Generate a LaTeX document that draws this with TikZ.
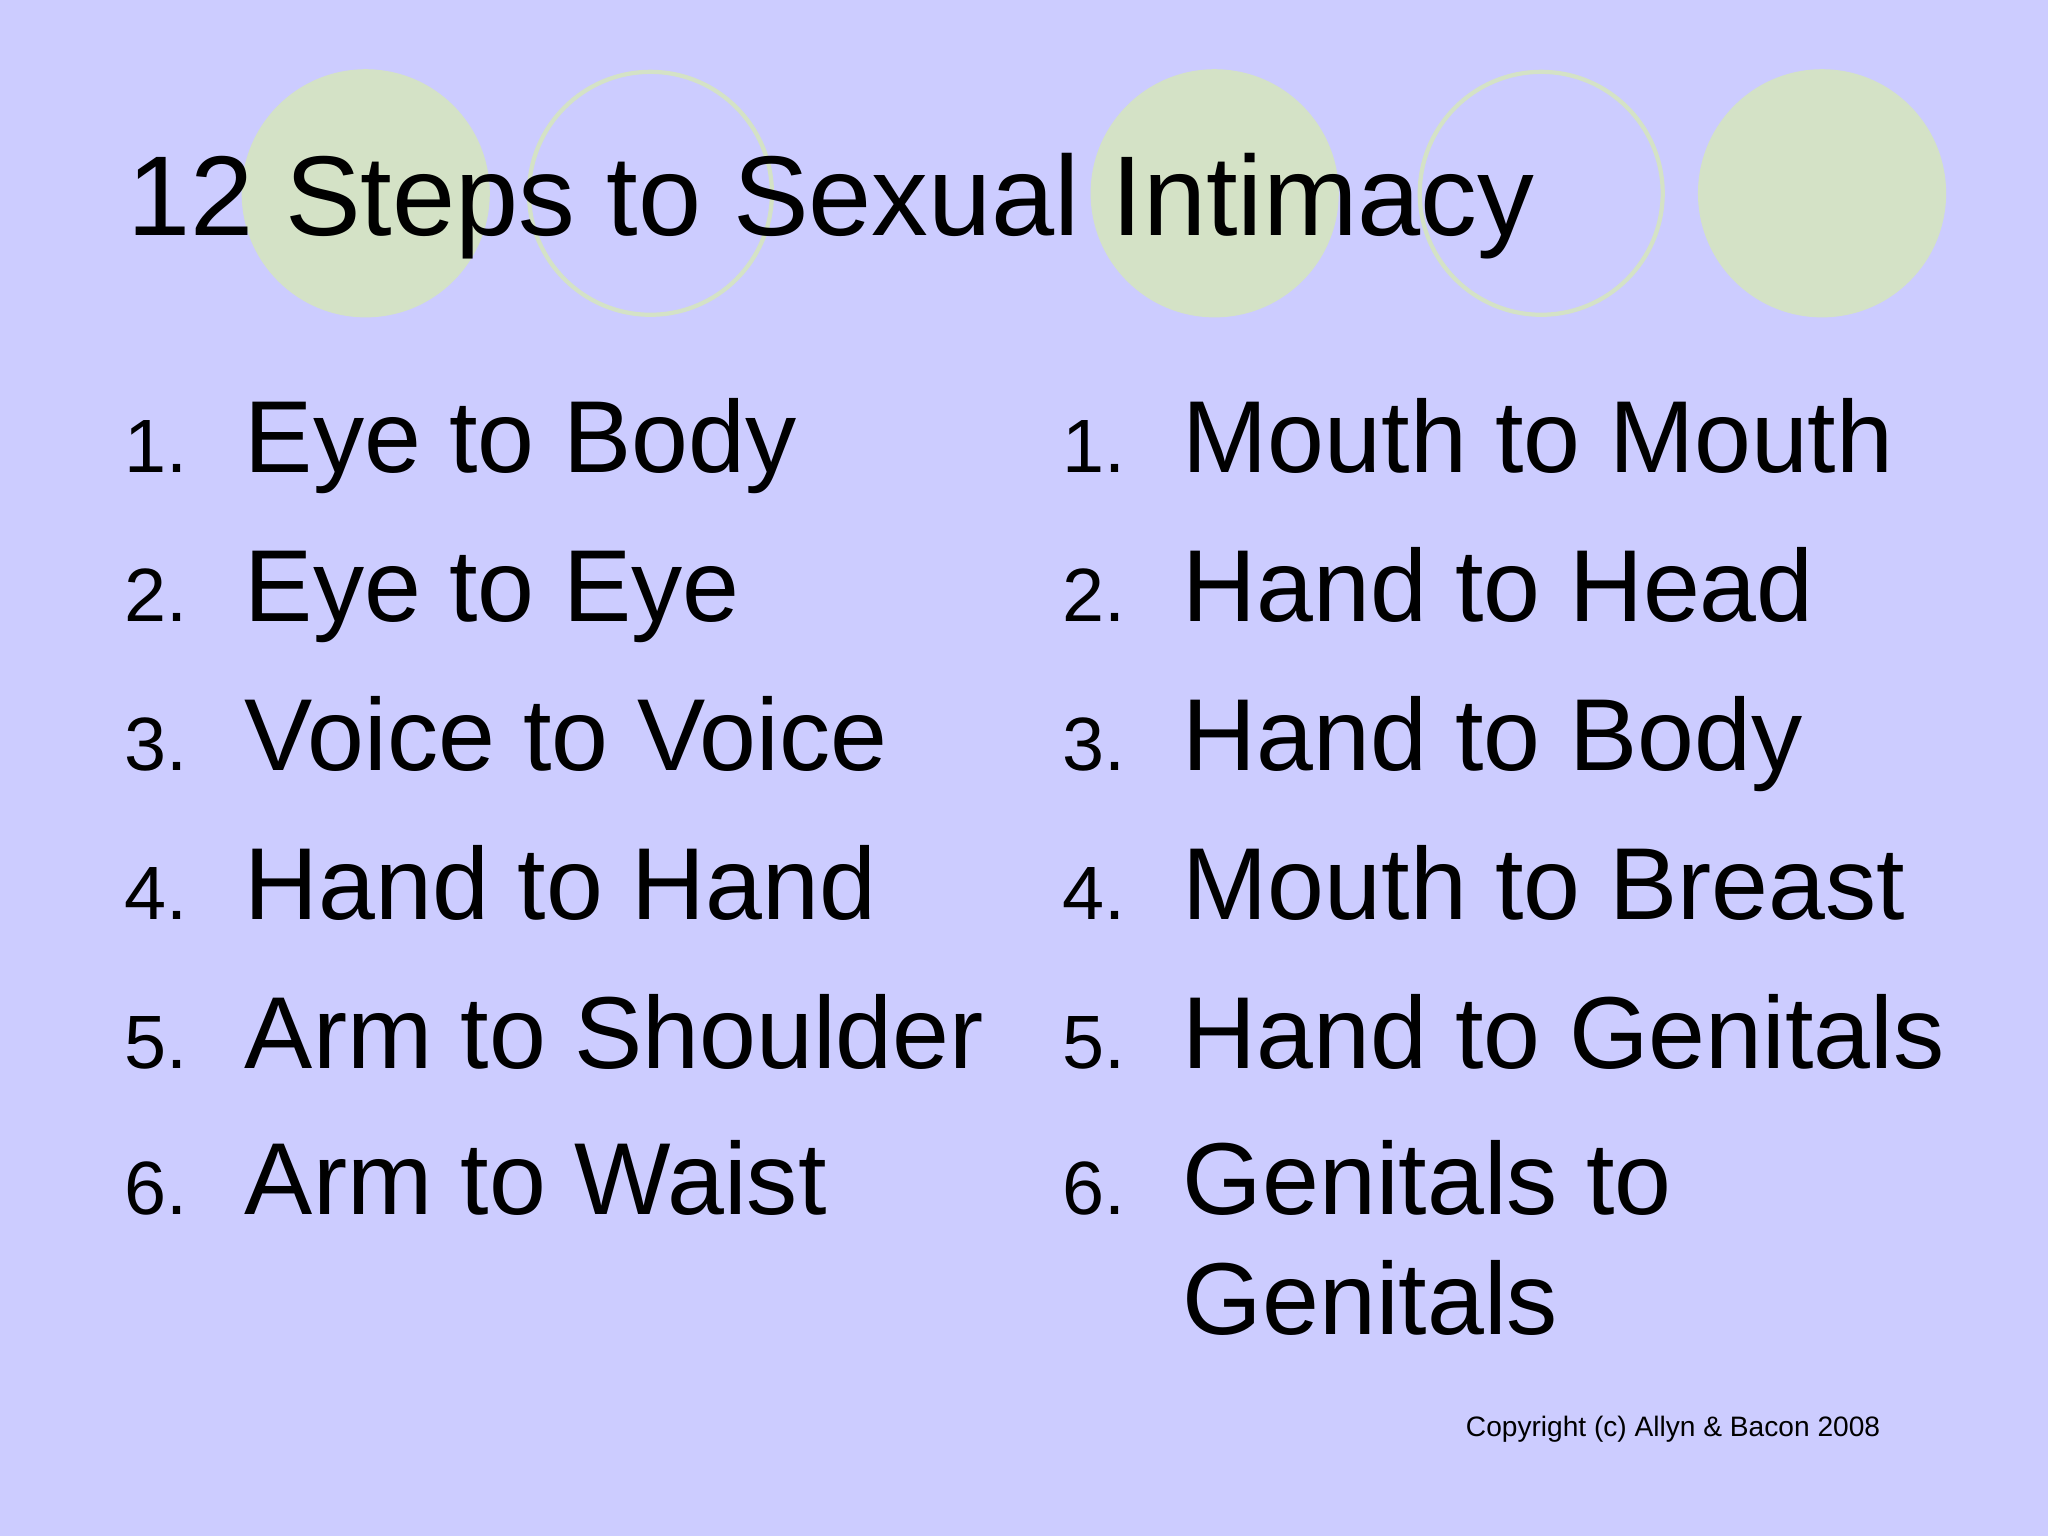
\documentclass[tikz,border=0pt]{standalone}
\usepackage{fontspec}
\setmainfont{Liberation Sans}
\definecolor{bg}{HTML}{CCCCFF}
\definecolor{cg}{HTML}{D4E2C6}
\begin{document}
\begin{tikzpicture}[x=0.01306cm,y=-0.01306cm,
  num/.style={anchor=base west,inner sep=0pt,font=\fontsize{21.5}{24}\selectfont},
  item/.style={anchor=base west,inner sep=0pt,font=\fontsize{29.1}{34}\selectfont},
  fillc/.style={fill=cg,draw=none},
  ringc/.style={draw=cg,line width=1.2pt}]
\fill[bg] (0,0) rectangle (1568,1176);
\useasboundingbox (0,0) rectangle (1568,1176);
\fill[fillc] (280,148) circle (95);
\draw[ringc] (498,148) circle (93);
\fill[fillc] (930,148) circle (95);
\draw[ringc] (1180,148) circle (93);
\fill[fillc] (1395,148) circle (95);
\node[anchor=base west,inner sep=0pt,font=\fontsize{32.3}{36}\selectfont] (title) at (97,180) {12 Steps to Sexual Intimacy};
\foreach \n/\t/\y [count=\i] in {1./Eye to Body/362,2./Eye to Eye/476,3./Voice to Voice/590,4./Hand to Hand/704,5./Arm to Shoulder/818,6./Arm to Waist/930}{
  \node[num] (ln\i) at (95,\y) {\n};
  \node[item] (lt\i) at (187,\y) {\t};
}
\foreach \n/\t/\y [count=\i] in {1./Mouth to Mouth/362,2./Hand to Head/476,3./Hand to Body/590,4./Mouth to Breast/704,5./Hand to Genitals/818,6./Genitals to/930}{
  \node[num] (rn\i) at (813,\y) {\n};
  \node[item] (rt\i) at (905,\y) {\t};
}
\node[item] (rt7) at (905,1022) {Genitals};
\node[anchor=base east,inner sep=0pt,font=\fontsize{8}{9}\selectfont] (copy) at (1440,1100) {Copyright (c) Allyn \& Bacon 2008};
\end{tikzpicture}
\end{document}
